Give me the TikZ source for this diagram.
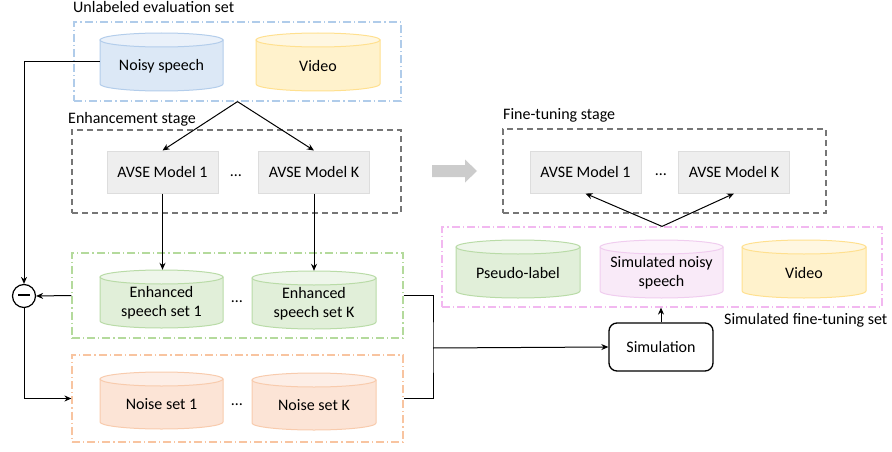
\documentclass[tikz,border=0pt]{standalone}
\usepackage{fontspec}
\setmainfont{Carlito}
\usetikzlibrary{arrows.meta}
\definecolor{bluebody}{HTML}{DCE8F6}
\definecolor{bluetop}{HTML}{EAF1FA}
\definecolor{blueline}{HTML}{B3CDEB}
\definecolor{yelbody}{HTML}{FFF2CC}
\definecolor{yeltop}{HTML}{FFF7E1}
\definecolor{yelline}{HTML}{FFE08F}
\definecolor{grnbody}{HTML}{E1EFD9}
\definecolor{grntop}{HTML}{EEF6EA}
\definecolor{grnline}{HTML}{B9DBA7}
\definecolor{orgbody}{HTML}{FCE4D6}
\definecolor{orgtop}{HTML}{FDEEE6}
\definecolor{orgline}{HTML}{F8CBAD}
\definecolor{pnkbody}{HTML}{F9EAF8}
\definecolor{pnktop}{HTML}{FCF3FB}
\definecolor{pnkline}{HTML}{F0CDEF}
\definecolor{frblue}{HTML}{B0CCEA}
\definecolor{frgreen}{HTML}{B4DA9C}
\definecolor{frorange}{HTML}{F8C4A0}
\definecolor{frpink}{HTML}{F2B8F0}
\definecolor{frgray}{HTML}{767676}
\definecolor{modelfill}{HTML}{EEEEEE}
\definecolor{modelline}{HTML}{DDDDDD}
\definecolor{bigarrow}{HTML}{CCCCCC}
\tikzset{
  dashdotfr/.style={draw=#1, line width=1.2pt, dash pattern=on 8pt off 3pt on 1.2pt off 3pt, inner sep=0pt},
  grayfr/.style={draw=frgray, line width=1.3pt, dash pattern=on 6pt off 4pt, inner sep=0pt},
  modelbox/.style={draw=modelline, fill=modelfill, line width=1pt, minimum width=111pt, minimum height=42pt, inner sep=0pt},
  cyltext/.style={align=center, yshift=-4pt, inner sep=0pt},
  conn/.style={draw=black, line width=1pt},
  arr/.style={conn, -{Stealth[length=7pt,width=6pt]}},
  dots/.style={anchor=base, inner sep=0pt},
  lbl/.style={anchor=base west, inner sep=0pt},
}
\newcommand\mycyl[7]{%
  \pgfmathsetmacro\cxm{(#2+#4)/2}%
  \pgfmathsetmacro\crx{(#4-#2)/2}%
  \pgfmathsetmacro\cw{#4-#2}%
  \pgfmathsetmacro\ch{#5-#3}%
  \pgfmathsetmacro\cym{(#3+#5)/2}%
  \filldraw[fill=#6body, draw=#6line, line width=1pt] (#2,#3+7) -- (#2,#5-7) arc[start angle=180, end angle=0, x radius=\crx, y radius=7] -- (#4,#3+7) -- cycle;
  \filldraw[fill=#6top, draw=#6line, line width=1pt] (\cxm,#3+7) ellipse[x radius=\crx, y radius=7];
  \node[minimum width=\cw pt, minimum height=\ch pt, inner sep=0pt, label={[cyltext]center:{#7}}] (#1) at (\cxm,\cym) {};
}
\begin{document}
\begin{tikzpicture}[x=1pt,y=-1pt,font=\fontsize{16}{19}\selectfont]
\useasboundingbox (0,0) rectangle (892,452);
% frames
\node[dashdotfr=frblue, minimum width=327pt, minimum height=79pt] (uset) at (237.5,61.5) {};
\node[grayfr, minimum width=329pt, minimum height=83pt] (enhst) at (236.5,171.5) {};
\node[dashdotfr=frgreen, minimum width=331pt, minimum height=85pt] (enhset) at (237.5,295.5) {};
\node[dashdotfr=frorange, minimum width=331pt, minimum height=87pt] (noiseset) at (237.5,398.5) {};
\node[grayfr, minimum width=323pt, minimum height=84pt] (ftst) at (664.5,171) {};
\node[dashdotfr=frpink, minimum width=440pt, minimum height=80pt] (simset) at (662,267) {};
% labels
\node[lbl] (l1) at (73,13) {Unlabeled evaluation set};
\node[lbl] (l2) at (68,123) {Enhancement stage};
\node[lbl] (l3) at (503,120) {Fine-tuning stage};
\node[lbl] (l4) at (724,324) {Simulated fine-tuning set};
% cylinders
\mycyl{noisy}{100}{33}{223}{91}{blue}{Noisy speech}
\mycyl{video}{256}{33}{380}{91}{yel}{Video}
\mycyl{enh1}{100}{270}{223}{328}{grn}{Enhanced\\speech set 1}
\mycyl{enhk}{252}{271}{376}{329}{grn}{Enhanced\\speech set K}
\mycyl{noi1}{100}{372}{223}{429}{org}{Noise set 1}
\mycyl{noik}{252}{373}{376}{430}{org}{Noise set K}
\mycyl{pseudo}{456}{240}{580}{298}{grn}{Pseudo-label}
\mycyl{simnoisy}{600}{240}{723}{298}{pnk}{Simulated noisy\\speech}
\mycyl{video2}{742}{240}{866}{298}{yel}{Video}
% models
\node[modelbox] (m1) at (162.5,172) {AVSE Model 1};
\node[modelbox] (mk) at (314,172) {AVSE Model K};
\node[modelbox] (f1) at (585.5,172) {AVSE Model 1};
\node[modelbox] (fk) at (734,172) {AVSE Model K};
% dots
\node[dots] (d1) at (236,176) {…};
\node[dots] (d2) at (237,302) {…};
\node[dots] (d3) at (237,405) {…};
\node[dots] (d4) at (661,175) {…};
% minus
\node[circle, draw, line width=1.2pt, minimum size=23pt, inner sep=0pt] (minus) at (24,296) {\rule[0.2ex]{12pt}{2pt}};
% simulation
\node[draw, line width=1.3pt, rounded corners=8pt, minimum width=104pt, minimum height=48pt, inner sep=0pt] (sim) at (661,347) {Simulation};
% big gray arrow
\fill[bigarrow] (432,165) -- (465,165) -- (465,159.5) -- (477,171) -- (465,182.5) -- (465,177) -- (432,177) -- cycle;
% connectors
\draw[arr] (uset.south) -- (m1.north);
\draw[arr] (uset.south) -- (mk.north);
\draw[arr] (m1.south) -- (m1.south |- enh1.north);
\draw[arr] (mk.south) -- (mk.south |- enhk.north);
\draw[arr] (noisy.west) -| (minus.north);
\draw[arr] (enhset.west) -- (minus.east);
\draw[arr] (minus.south) |- (noiseset.west);
\coordinate (j) at (433,348);
\draw[conn] (enhset.east) -| (j) |- (noiseset.east);
\draw[arr] (j) -- (sim.west);
\draw[arr] (sim.north) -- (sim.north |- simset.south);
\draw[arr] (simset.north) -- (f1.south);
\draw[arr] (simset.north) -- (fk.south);
\end{tikzpicture}
\end{document}
